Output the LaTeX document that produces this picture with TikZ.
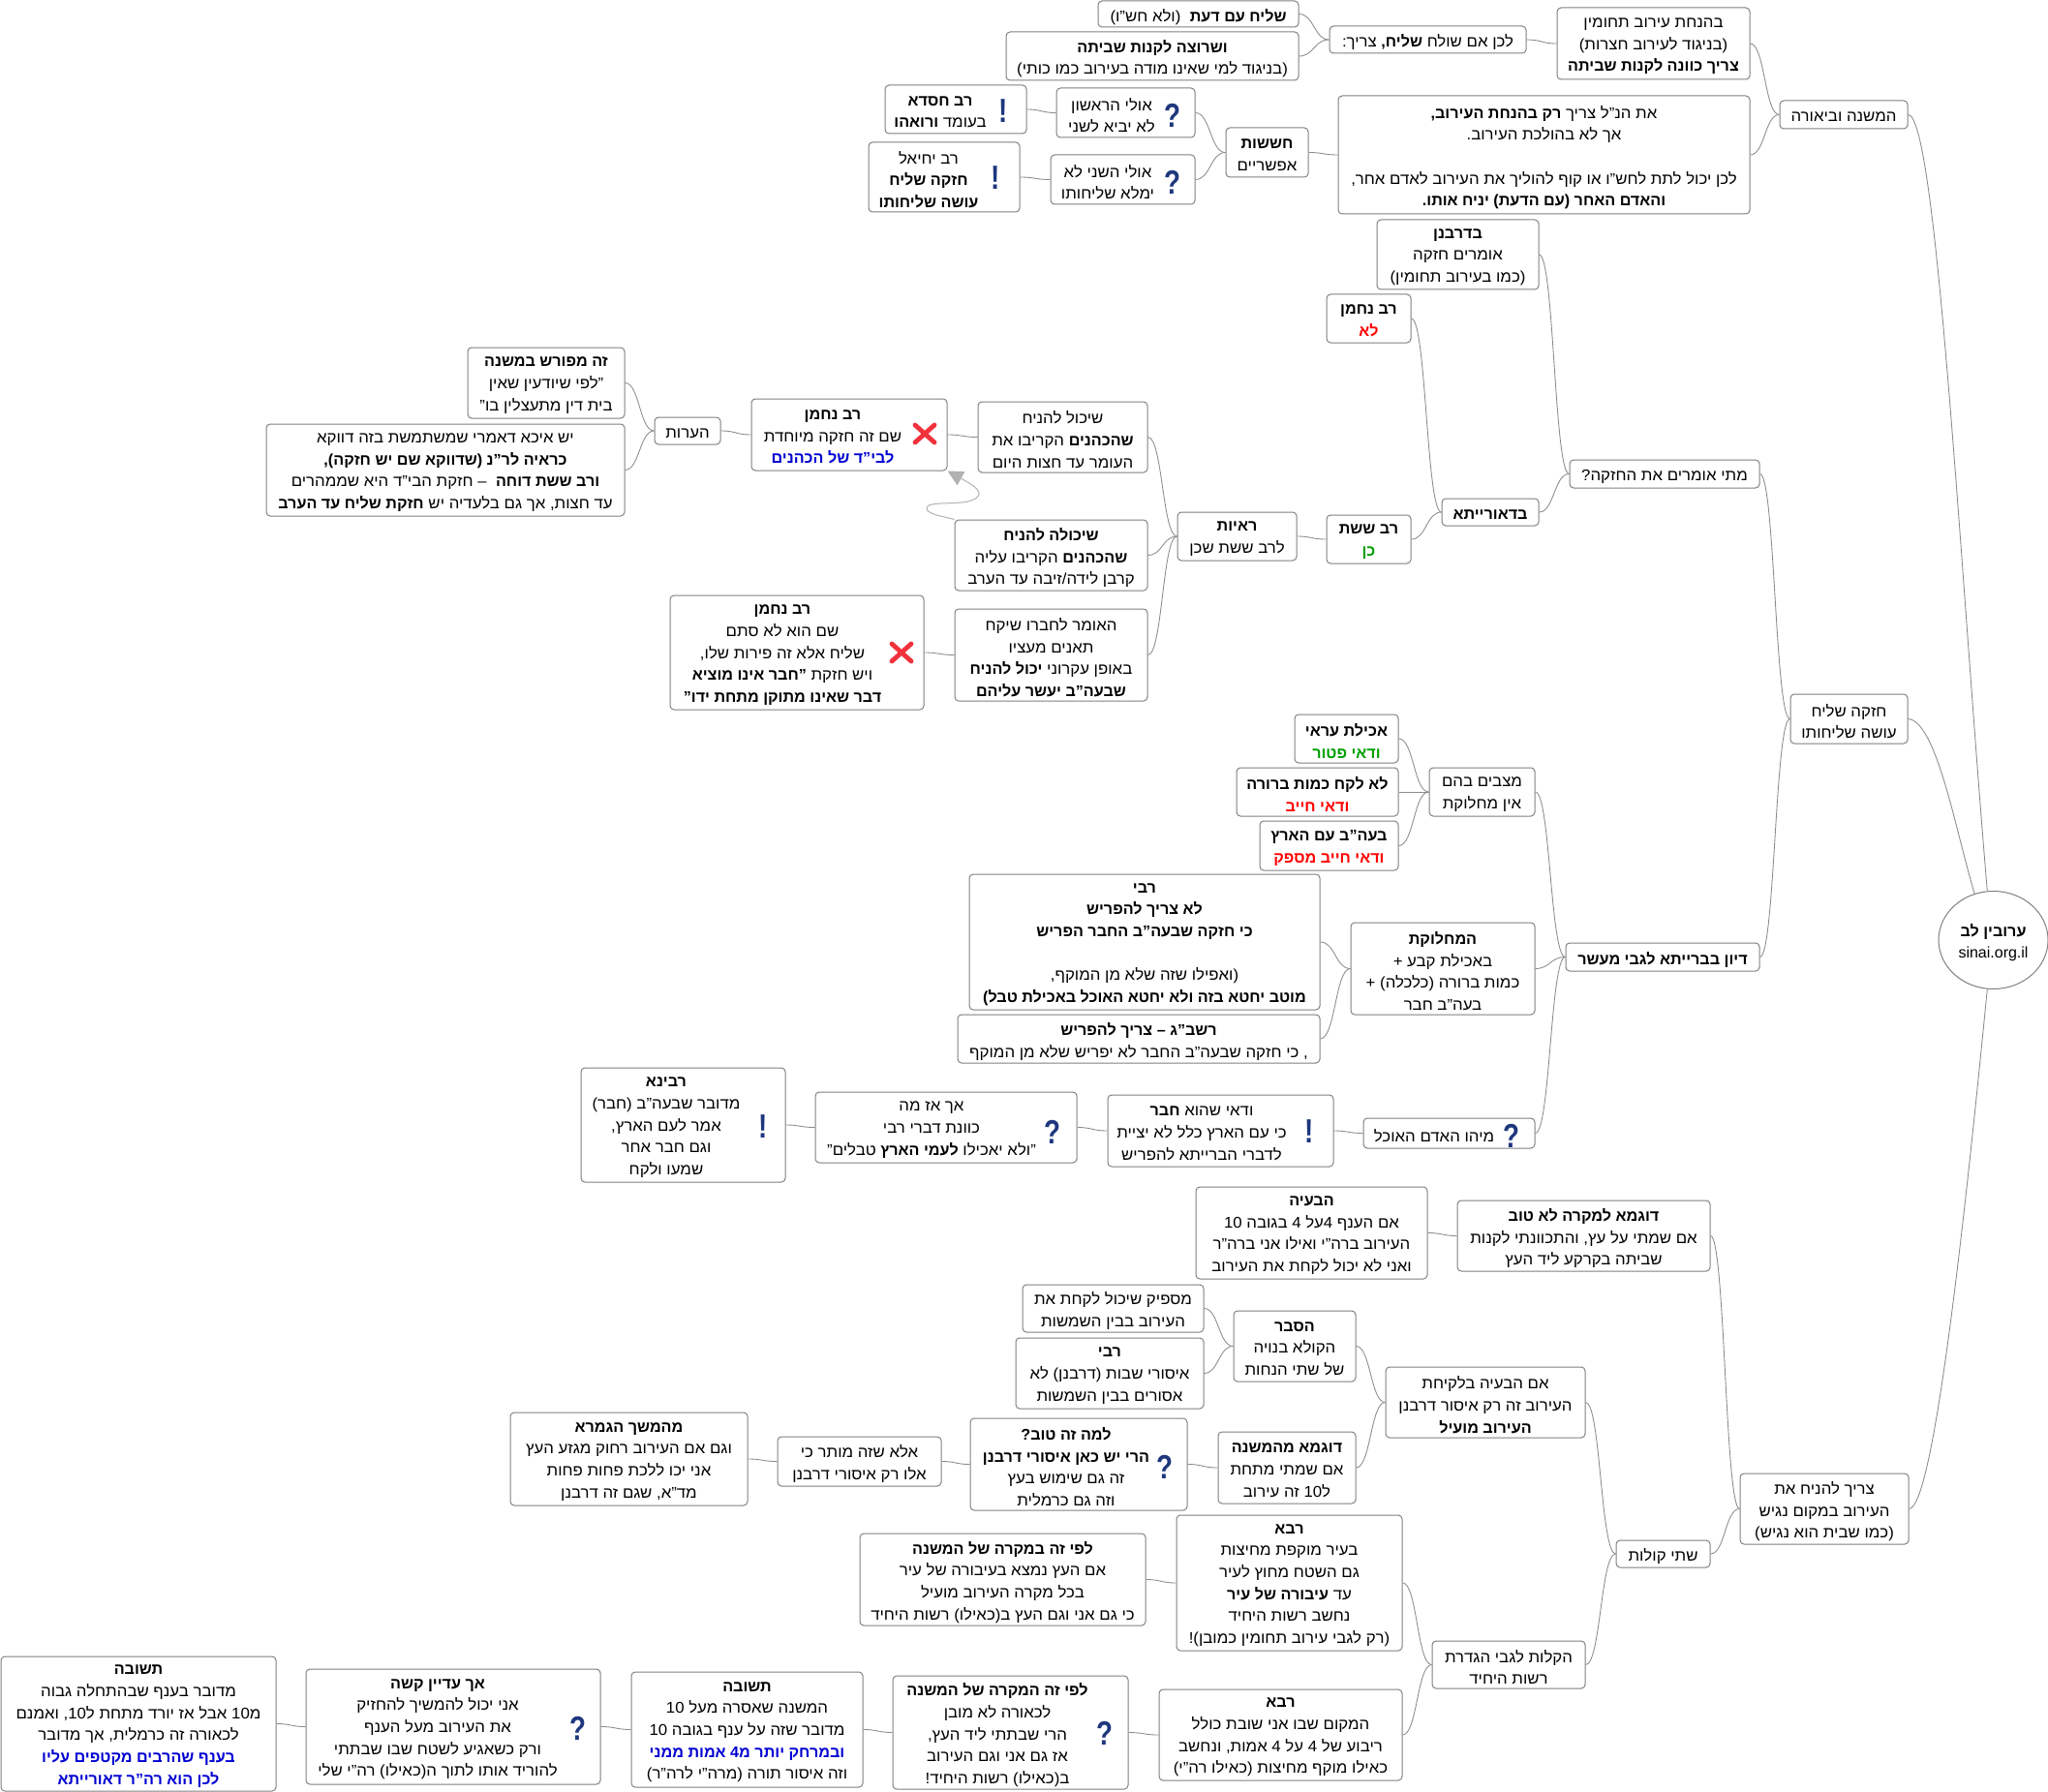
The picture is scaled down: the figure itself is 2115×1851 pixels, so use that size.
\documentclass[tikz,border=0pt]{standalone}
\usepackage{fontspec}
\usetikzlibrary{calc,shapes.geometric,arrows.meta}
\setmainfont[Script=Hebrew,FakeStretch=1.05,BoldFeatures={FakeStretch=1.01}]{Liberation Sans}
\newfontfamily\latinf{Liberation Sans}
\newfontfamily\iconf[FakeStretch=0.8]{Liberation Sans}
\TeXXeTstate=1
\definecolor{boxgrey}{RGB}{128,128,128}
\definecolor{conngrey}{RGB}{140,140,140}
\definecolor{linkgrey}{RGB}{178,178,178}
\definecolor{tblue}{RGB}{0,0,210}
\definecolor{tred}{RGB}{255,0,0}
\definecolor{tgreen}{RGB}{0,160,0}
\definecolor{iconblue}{RGB}{30,55,125}
\definecolor{iconred}{RGB}{240,50,60}
\tikzset{
  nbox/.style={draw=boxgrey,line width=0.75pt,rounded corners=3pt,fill=white,inner sep=0pt},
  ntext/.style={inner sep=0pt,align=center,yshift=-2pt,font=\fontsize{12}{17}\selectfont},
  conn/.style={draw=conngrey,line width=0.65pt},
  qicon/.style={inner sep=0pt,text=iconblue,font=\fontsize{26}{26}\selectfont\iconf\bfseries},
  xline/.style={draw=iconred,line width=3.6pt,line cap=round},
  link/.style={draw=linkgrey,line width=0.75pt,-{Triangle[length=12pt,width=12pt,color=linkgrey]}}
}
\newcommand\Rl[1]{\beginR #1\endR}
\newcommand\Lt[1]{\beginL #1\endL{}}
\newcommand\tb[1]{\textbf{#1}}
\newcommand\bxs[7]{\node[nbox,minimum width={(#4-#2)*0.75pt},minimum height={(#5-#3)*0.75pt}] (#1) at ({(#2+#4)/2},{(#3+#5)/2}) {};\node[ntext] (#1-t) at ({#6},{(#3+#5)/2}) {#7};}
\newcommand\bx[6]{\bxs{#1}{#2}{#3}{#4}{#5}{(#2+#4)/2}{#6}}
\newcommand\cn[2]{\draw[conn] (#1.east) .. controls ($(#1.east)!0.5!(#2.west |- #1.east)$) and ($(#2.west)!0.5!(#1.east |- #2.west)$) .. (#2.west);}
\newcommand\ico[4]{\node[qicon] (#1) at (#2,{#3+2}) {#4};}
\newcommand\xx[3]{\coordinate (#1) at (#2,#3);\draw[xline] ($(#1)+(-10,-9)$) -- ($(#1)+(10,9)$);\draw[xline] ($(#1)+(10,-9)$) -- ($(#1)+(-10,9)$);}
\begin{document}
\begin{tikzpicture}[x=0.75pt,y=-0.75pt]
\useasboundingbox (0,0) rectangle (2115,1851);
% root
\node[draw=boxgrey,line width=0.75pt,fill=white,ellipse,inner sep=0pt,minimum width=84.75pt,minimum height=75.75pt] (root) at (2058.5,971) {};
\node[ntext] (root-t) at (2058.5,971) {\Rl{\tb{ערובין לב}}\\{\latinf sinai.org.il}};
% top branch
\bx{a1}{1134}{1}{1341}{28}{\Rl{\tb{שליח עם דעת}\ \ (ולא חש"ו)}}
\bx{a2}{1039}{33}{1341}{83}{\Rl{\tb{ושרוצה לקנות שביתה}}\\\Rl{(בניגוד למי שאינו מודה בעירוב כמו כותי)}}
\bx{a3}{1373}{27}{1576}{55}{\Rl{לכן אם שולח \tb{שליח,} צריך:}}
\bx{a4}{1608}{8}{1807}{82}{\Rl{בהנחת עירוב תחומין}\\\Rl{(בניגוד לעירוב חצרות)}\\\Rl{\tb{צריך כוונה לקנות שביתה}}}
\bxs{b1}{914}{88}{1060}{138}{971}{\Rl{\tb{רב חסדא}}\\\Rl{בעומד \tb{ורואהו}}}
\bxs{b2}{1091}{91}{1234}{142}{1148}{\Rl{אולי הראשון}\\\Rl{לא יביא לשני}}
\bxs{b3}{897}{147}{1053}{219}{959}{\Rl{רב יחיאל}\\\Rl{\tb{חזקה שליח}}\\\Rl{\tb{עושה שליחותו}}}
\bxs{b4}{1085}{160}{1234}{211}{1144}{\Rl{אולי השני לא}\\\Rl{ימלא שליחותו}}
\bx{b5}{1266}{132}{1351}{183}{\Rl{\tb{חששות}}\\\Rl{אפשריים}}
\bx{b6}{1382}{99}{1807}{221}{\Rl{את הנ"ל צריך \tb{רק בהנחת העירוב,}}\\\Rl{אך לא בהולכת העירוב.}\\\mbox{}\\\Rl{לכן יכול לתת לחש"ו או קוף להוליך את העירוב לאדם אחר,}\\\Rl{\tb{והאדם האחר (עם הדעת) יניח אותו.}}}
\bx{top}{1838}{104}{1970}{133}{\Rl{המשנה וביאורה}}
\ico{ib1}{1036}{113}{!}
\ico{ib2}{1211}{117}{?}
\ico{ib3}{1028}{182}{!}
\ico{ib4}{1211}{186}{?}
% when is chazaka
\bx{c1}{1422}{227}{1589}{299}{\Rl{\tb{בדרבנן}}\\\Rl{אומרים חזקה}\\\Rl{(כמו בעירוב תחומין)}}
\bx{c2}{1370}{304}{1457}{354}{\Rl{\tb{רב נחמן}}\\\textcolor{tred}{\Rl{\tb{לא}}}}
\bx{c3}{1370}{532}{1457}{582}{\Rl{\tb{רב ששת}}\\\textcolor{tgreen}{\Rl{\tb{כן}}}}
\bx{c4}{1489}{515}{1589}{543}{\Rl{\tb{בדאורייתא}}}
\bx{c5}{1621}{475}{1817}{504}{\Rl{מתי אומרים את החזקה?}}
\bx{c6}{1216}{529}{1339}{579}{\Rl{\tb{ראיות}}\\\Rl{לרב ששת שכן}}
\bx{d1}{1010}{415}{1185}{488}{\Rl{שיכול להניח}\\\Rl{\tb{שהכהנים} הקריבו את}\\\Rl{העומר עד חצות היום}}
\bx{d2}{986}{537}{1185}{610}{\Rl{\tb{שיכולה להניח}}\\\Rl{\tb{שהכהנים} הקריבו עליה}\\\Rl{קרבן לידה/זיבה עד הערב}}
\bx{d3}{986}{629}{1185}{724}{\Rl{האומר לחברו שיקח}\\\Rl{תאנים מעציו}\\\Rl{באופן עקרוני \tb{יכול להניח}}\\\Rl{\tb{שבעה"ב יעשר עליהם}}}
\bxs{d4}{776}{412}{978}{486}{860}{\Rl{\tb{רב נחמן}}\\\Rl{שם זה חזקה מיוחדת}\\\textcolor{tblue}{\Rl{\tb{לבי"ד של הכהנים}}}}
\bxs{d5}{692}{615}{954}{733}{808}{\Rl{\tb{רב נחמן}}\\\Rl{שם הוא לא סתם}\\\Rl{שליח אלא זה פירות שלו,}\\\Rl{ויש חזקת \tb{"חבר אינו מוציא}}\\\Rl{\tb{דבר שאינו מתוקן מתחת ידו"}}}
\bx{d6}{676}{431}{744}{459}{\Rl{הערות}}
\bx{d7}{483}{359}{645}{432}{\Rl{\tb{זה מפורש במשנה}}\\\Rl{"לפי שיודעין שאין}\\\Rl{בית דין מתעצלין בו"}}
\bx{d8}{275}{438}{645}{533}{\Rl{יש איכא דאמרי שמשתמשת בזה דווקא}\\\Rl{\tb{כראיה לר"נ (שדווקא שם יש חזקה),}}\\\Rl{\tb{ורב ששת דוחה}\ \ – חזקת הבי"ד היא שממהרים}\\\Rl{עד חצות, אך גם בלעדיה יש \tb{חזקת שליח עד הערב}}}
\xx{xa}{955}{448}
\xx{xb}{931}{674}
% dispute
\bx{e1}{1337}{738}{1444}{788}{\Rl{\tb{אכילת עראי}}\\\textcolor{tgreen}{\Rl{\tb{ודאי פטור}}}}
\bx{e2}{1277}{793}{1444}{843}{\Rl{\tb{לא לקח כמות ברורה}}\\\textcolor{tred}{\Rl{\tb{ודאי חייב}}}}
\bx{e3}{1301}{848}{1444}{899}{\Rl{\tb{בעה"ב עם הארץ}}\\\textcolor{tred}{\Rl{\tb{ודאי חייב מספק}}}}
\bx{e4}{1476}{793}{1585}{843}{\Rl{מצבים בהם}\\\Rl{אין מחלוקת}}
\bx{e5}{1001}{903}{1363}{1043}{\Rl{\tb{רבי}}\\\Rl{\tb{לא צריך להפריש}}\\\Rl{\tb{כי חזקה שבעה"ב החבר הפריש}}\\\mbox{}\\\Rl{(ואפילו שזה שלא מן המוקף,}\\\Rl{\tb{מוטב יחטא בזה ולא יחטא האוכל באכילת טבל)}}}
\bx{e6}{989}{1048}{1363}{1098}{\Rl{\tb{רשב"ג – צריך להפריש}}\\\Rl{, כי חזקה שבעה"ב החבר לא יפריש שלא מן המוקף}}
\bx{e7}{1395}{953}{1585}{1048}{\Rl{\tb{המחלוקת}}\\\Rl{באכילת קבע +}\\\Rl{כמות ברורה (כלכלה) +}\\\Rl{בעה"ב חבר}}
\bx{e8}{1617}{974}{1817}{1003}{\Rl{\tb{דיון בברייתא לגבי מעשר}}}
\bx{mid}{1849}{717}{1970}{768}{\Rl{חזקה שליח}\\\Rl{עושה שליחותו}}
\bxs{f1}{1408}{1155}{1585}{1186}{1481}{\Rl{מיהו האדם האוכל}}
\bxs{f2}{1144}{1131}{1377}{1205}{1241}{\Rl{ודאי שהוא \tb{חבר}}\\\Rl{כי עם הארץ כלל לא יציית}\\\Rl{לדברי הברייתא להפריש}}
\bxs{f3}{842}{1128}{1112}{1201}{962}{\Rl{אך אז מה}\\\Rl{כוונת דברי רבי}\\\Rl{"ולא יאכילו \tb{לעמי הארץ} טבלים"}}
\bxs{f4}{600}{1103}{811}{1221}{688}{\Rl{\tb{רבינא}}\\\Rl{מדובר שבעה"ב (חבר)}\\\Rl{אמר לעם הארץ,}\\\Rl{וגם חבר אחר}\\\Rl{שמעו ולקח}}
\ico{if1}{1561}{1171}{?}
\ico{if2}{1352}{1167}{!}
\ico{if3}{1087}{1167}{?}
\ico{if4}{788}{1162}{!}
% lower branch
\bx{g1}{1235}{1226}{1474}{1321}{\Rl{\tb{הבעיה}}\\\Rl{אם הענף \Lt{4}על \Lt{4} בגובה \Lt{10}}\\\Rl{העירוב ברה"י ואילו אני ברה"ר}\\\Rl{ואני לא יכול לקחת את העירוב}}
\bx{g2}{1505}{1240}{1766}{1313}{\Rl{\tb{דוגמא למקרה לא טוב}}\\\Rl{אם שמתי על עץ, והתכוונתי לקנות}\\\Rl{שביתה בקרקע ליד העץ}}
\bx{g3}{1056}{1327}{1243}{1376}{\Rl{מספיק שיכול לקחת את}\\\Rl{העירוב בבין השמשות}}
\bx{g4}{1049}{1382}{1243}{1455}{\Rl{\tb{רבי}}\\\Rl{איסורי שבות (דרבנן) לא}\\\Rl{אסורים בבין השמשות}}
\bx{g5}{1274}{1354}{1400}{1427}{\Rl{\tb{הסבר}}\\\Rl{הקולא בנויה}\\\Rl{של שתי הנחות}}
\bx{g6}{1431}{1412}{1637}{1485}{\Rl{אם הבעיה בלקיחת}\\\Rl{העירוב זה רק איסור דרבנן}\\\Rl{\tb{העירוב מועיל}}}
\bx{g7}{1258}{1479}{1400}{1553}{\Rl{\tb{דוגמא מהמשנה}}\\\Rl{אם שמתי מתחת}\\\Rl{ל\Lt{10} זה עירוב}}
\bx{low}{1797}{1522}{1971}{1595}{\Rl{צריך להניח את}\\\Rl{העירוב במקום נגיש}\\\Rl{(כמו שבית הוא נגיש)}}
\bxs{g8}{1002}{1465}{1226}{1560}{1101}{\Rl{\tb{למה זה טוב?}}\\\Rl{\tb{הרי יש כאן איסורי דרבנן}}\\\Rl{זה גם שימוש בעץ}\\\Rl{וזה גם כרמלית}}
\bx{g9}{803}{1484}{972}{1535}{\Rl{אלא שזה מותר כי}\\\Rl{אלו רק איסורי דרבנן}}
\bx{g10}{527}{1459}{772}{1555}{\Rl{\tb{מהמשך הגמרא}}\\\Rl{וגם אם העירוב רחוק מגזע העץ}\\\Rl{אני יכו ללכת פחות פחות}\\\Rl{מד"א, שגם זה דרבנן}}
\bx{h1}{888}{1584}{1183}{1679}{\Rl{\tb{לפי זה במקרה של המשנה}}\\\Rl{אם העץ נמצא בעיבורה של עיר}\\\Rl{בכל מקרה העירוב מועיל}\\\Rl{כי גם אני וגם העץ ב(כאילו) רשות היחיד}}
\bx{h2}{1215}{1565}{1448}{1705}{\Rl{\tb{רבא}}\\\Rl{בעיר מוקפת מחיצות}\\\Rl{גם השטח מחוץ לעיר}\\\Rl{עד \tb{עיבורה של עיר}}\\\Rl{נחשב רשות היחיד}\\\Rl{(רק לגבי עירוב תחומין כמובן)!}}
\bx{h3}{1669}{1591}{1766}{1619}{\Rl{שתי קולות}}
\bx{h4}{1479}{1695}{1637}{1744}{\Rl{הקלות לגבי הגדרת}\\\Rl{רשות היחיד}}
\bx{h5}{1197}{1745}{1448}{1839}{\Rl{\tb{רבא}}\\\Rl{המקום שבו אני שובת כולל}\\\Rl{ריבוע של \Lt{4} על \Lt{4} אמות, ונחשב}\\\Rl{כאילו מוקף מחיצות (כאילו רה"י)}}
\bxs{h6}{922}{1731}{1165}{1848}{1030}{\Rl{\tb{לפי זה המקרה של המשנה}}\\\Rl{לכאורה לא מובן}\\\Rl{הרי שבתתי ליד העץ,}\\\Rl{אז גם אני וגם העירוב}\\\Rl{ב(כאילו) רשות היחיד!}}
\bx{h7}{652}{1727}{891}{1846}{\Rl{\tb{תשובה}}\\\Rl{המשנה שאסרה מעל \Lt{10}}\\\Rl{מדובר שזה על ענף בגובה \Lt{10}}\\\textcolor{tblue}{\Rl{\tb{ובמרחק יותר מ\Lt{4} אמות ממני}}}\\\Rl{וזה איסור תורה (מרה"י לרה"ר)}}
\bxs{h8}{316}{1724}{620}{1843}{452}{\Rl{\tb{אך עדיין קשה}}\\\Rl{אני יכול להמשיך להחזיק}\\\Rl{את העירוב מעל הענף}\\\Rl{ורק כשאגיע לשטח שבו שבתתי}\\\Rl{להוריד אותו לתוך ה(כאילו) רה"י שלי}}
\bx{h9}{1}{1711}{285}{1850}{\Rl{\tb{תשובה}}\\\Rl{מדובר בענף שבהתחלה גבוה}\\\Rl{מ\Lt{10} אבל אז יורד מתחת ל\Lt{10}, ואמנם}\\\Rl{לכאורה זה כרמלית, אך מדובר}\\\textcolor{tblue}{\Rl{\tb{בענף שהרבים מקטפים עליו}}}\\\textcolor{tblue}{\Rl{\tb{לכן הוא רה"ר דאורייתא}}}}
\ico{ig8}{1203}{1513}{?}
\ico{ih6}{1141}{1788}{?}
\ico{ih8}{597}{1783}{?}
% connectors
\cn{a1}{a3}\cn{a2}{a3}\cn{a3}{a4}\cn{a4}{top}\cn{b1}{b2}\cn{b3}{b4}\cn{b2}{b5}\cn{b4}{b5}\cn{b5}{b6}\cn{b6}{top}
\cn{c1}{c5}\cn{c2}{c4}\cn{c3}{c4}\cn{c4}{c5}\cn{c6}{c3}\cn{d1}{c6}\cn{d2}{c6}\cn{d3}{c6}\cn{d4}{d1}\cn{d5}{d3}\cn{d6}{d4}\cn{d7}{d6}\cn{d8}{d6}
\cn{c5}{mid}\cn{e8}{mid}\cn{e4}{e8}\cn{e7}{e8}\cn{f1}{e8}\cn{e1}{e4}\cn{e2}{e4}\cn{e3}{e4}\cn{e5}{e7}\cn{e6}{e7}\cn{f2}{f1}\cn{f3}{f2}\cn{f4}{f3}
\cn{g2}{low}\cn{g1}{g2}\cn{h3}{low}\cn{g6}{h3}\cn{h4}{h3}\cn{g5}{g6}\cn{g7}{g6}\cn{g3}{g5}\cn{g4}{g5}\cn{g8}{g7}\cn{g9}{g8}\cn{g10}{g9}
\cn{h2}{h4}\cn{h5}{h4}\cn{h1}{h2}\cn{h6}{h5}\cn{h7}{h6}\cn{h8}{h7}\cn{h9}{h8}
\draw[conn] (top.east) .. controls (2000,118) and (2025,600) .. (root.97);
\draw[conn] (mid.east) .. controls (2000,745) and (2020,860) .. (root.112);
\draw[conn] (low.east) .. controls (1995,1558) and (2025,1300) .. (root.263);
\draw[link] (d2.north west) .. controls (972,533) and (957,531) .. (957,525) .. controls (957,517) and (990,522) .. (1003,517) .. controls (1022,510) and (1003,500) .. (d4.south east);
\end{tikzpicture}
\end{document}
